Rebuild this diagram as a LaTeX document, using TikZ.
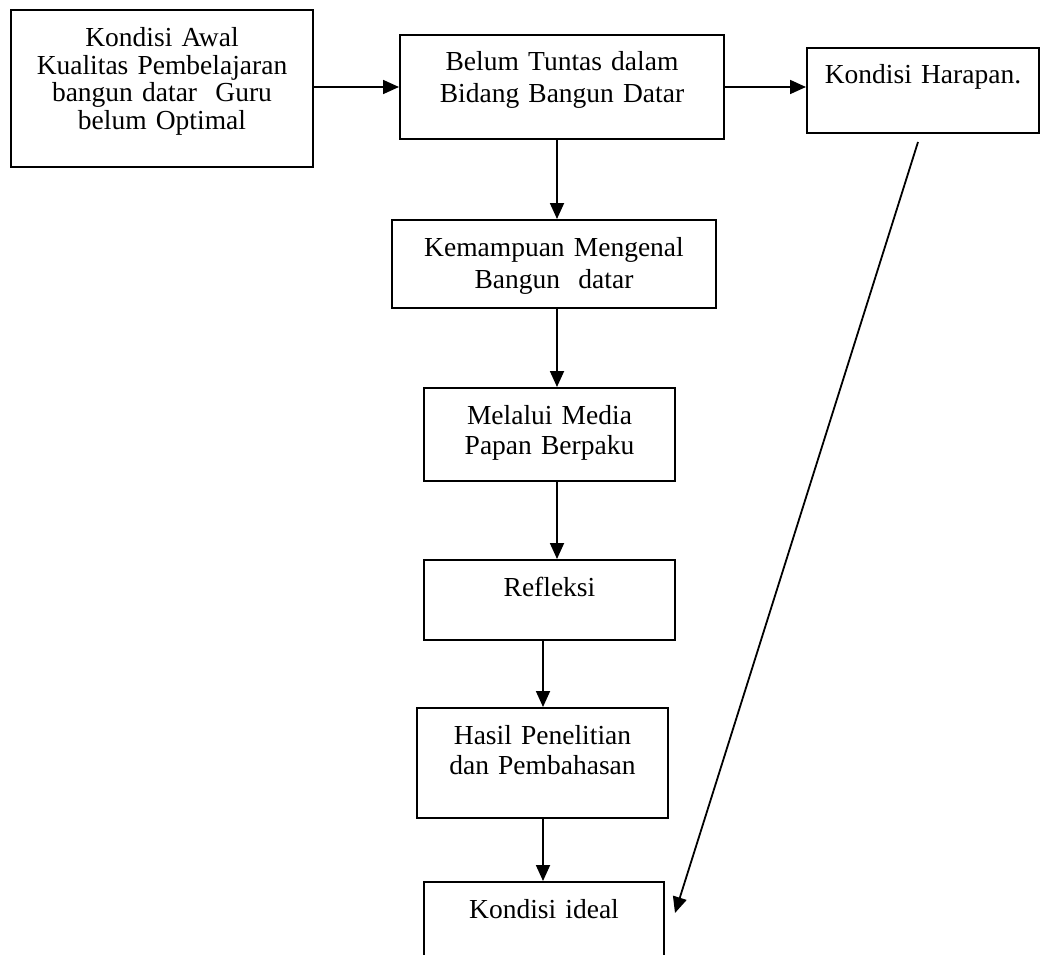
\documentclass[tikz,border=0pt]{standalone}
\usepackage{fontspec}
\setmainfont{Liberation Serif}
\usetikzlibrary{arrows.meta}

\begin{document}
\begin{tikzpicture}[x=1pt, y=-1pt,
    every node/.style={draw, line width=2pt, inner sep=0pt, align=center, anchor=north west,
        text height=36pt, font=\fontsize{27.5}{31}\selectfont},
    arr/.style={line width=1.8pt, -{Triangle[length=16pt, width=14pt]}}]
    \useasboundingbox (0, 0) rectangle (1041, 955);

    \node[text width=302pt, text height=37pt, text depth=120pt, font=\fontsize{27.5}{27.5}\selectfont] (awal) at (10, 9)
        {Kondisi Awal\\Kualitas Pembelajaran\\bangun datar~ Guru\\belum Optimal};
    \node[text width=324pt, text depth=68pt, font=\fontsize{27.5}{32}\selectfont] (tuntas) at (399, 34)
        {Belum Tuntas dalam\\Bidang Bangun Datar};
    \node[text width=232pt, text depth=49pt] (harapan) at (806, 47) {Kondisi Harapan.};
    \node[text width=324pt, text depth=52pt, font=\fontsize{27.5}{32}\selectfont] (kemampuan) at (391, 219)
        {Kemampuan Mengenal\\Bangun~ datar};
    \node[text width=251pt, text depth=57pt, font=\fontsize{27.5}{30}\selectfont] (media) at (423, 387)
        {Melalui Media\\Papan Berpaku};
    \node[text width=251pt, text depth=44pt] (refleksi) at (423, 559) {Refleksi};
    \node[text width=251pt, text depth=74pt, font=\fontsize{27.5}{30}\selectfont] (hasil) at (416, 707)
        {Hasil Penelitian\\dan Pembahasan};
    \node[text width=240pt, text depth=120pt] (ideal) at (423, 881) {Kondisi ideal};

    \draw[arr] (awal.east |- tuntas.west) -- (tuntas.west);
    \draw[arr] (tuntas.east) -- (tuntas.east -| harapan.west);
    \draw[arr] ([xshift=-5pt]tuntas.south) -- ([xshift=3pt]kemampuan.north);
    \draw[arr] ([xshift=3pt]kemampuan.south) -- ([xshift=7.5pt]media.north);
    \draw[arr] ([xshift=7.5pt]media.south) -- ([xshift=7.5pt]refleksi.north);
    \draw[arr] ([xshift=-6.5pt]refleksi.south) -- ([xshift=0.5pt]hasil.north);
    \draw[arr] ([xshift=0.5pt]hasil.south) -- ([xshift=-1pt]ideal.north);
    \draw[arr] ([shift={(-5,8)}]harapan.south) -- ([shift={(10,32)}]ideal.north east);
\end{tikzpicture}
\end{document}
